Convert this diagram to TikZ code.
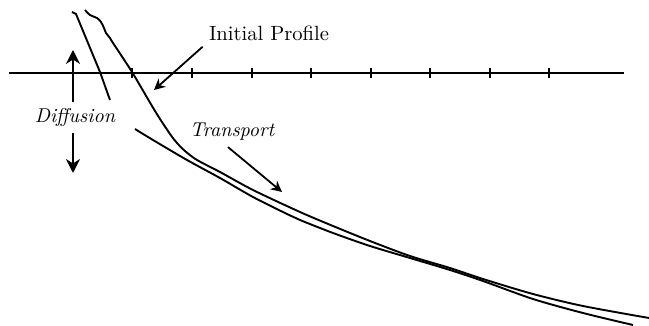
\documentclass[tikz,border=0pt]{standalone}
\usepackage{tikz}
\usetikzlibrary{arrows.meta,positioning}

\begin{document}
\begin{tikzpicture}[
    x=0.5pt, y=-0.5pt,
    curve/.style={line width=0.95pt, line join=round},
    axisline/.style={line width=0.9pt},
    label/.style={font=\fontsize{10.3}{12}\selectfont, inner sep=3pt},
    slanted/.style={font=\fontsize{10}{12}\selectfont\itshape, inner sep=3pt},
    arrow/.style={-{Stealth[length=5.5pt, width=5.5pt]}, line width=0.9pt},
    bigarrow/.style={-{Stealth[length=7pt, width=7pt]}, line width=0.9pt}
  ]
    \useasboundingbox (0,0) rectangle (649,326);

    % axis with ticks
    \draw[axisline] (9,73) -- (624,73);
    \foreach \t in {132,192,252,311,371,430,490,549}
      \draw[axisline] (\t,68) -- (\t,78);

    % profiles
    \draw[curve] (72,12) -- (76,14) -- (100,72) -- (110,100);
    \draw[curve] plot[smooth, tension=0.5] coordinates {
      (85,10) (90,15) (97,18) (101,22) (104,28) (106,33) (110,38) (113,43)
      (132,72) (155,111) (170,134) (177,143) (185,151) (197,160) (220,172)
      (253,190) (300,212) (333,226) (370,241) (410,256) (450,268) (483,279)
      (533,294) (583,306) (649,318)};
    \draw[curve] plot[smooth, tension=0.5] coordinates {
      (135,129) (153,140) (187,160) (220,178) (253,197) (287,214) (300,220)
      (333,233) (370,246) (410,258) (450,270) (483,281) (533,299) (583,313)
      (633,325)};

    % labels
    \node[label] (initial) at (269,33) {Initial Profile};
    \node[slanted] (diffusion) at (75,118) {Diffusion};
    \node[slanted] (transport) at (232,132) {Transport};

    \coordinate (initialtip) at (154,90);
    \coordinate (uptip) at (73,50);
    \coordinate (downtip) at (73,173);
    \coordinate (transporttip) at (282,192);

    \draw[arrow] (initial.south west) -- (initialtip);
    \draw[bigarrow] (diffusion.north -| uptip) -- (uptip);
    \draw[bigarrow] (diffusion.south -| downtip) -- (downtip);
    \draw[arrow] ([xshift=-2pt]transport.south) -- (transporttip);
  \end{tikzpicture}
\end{document}
